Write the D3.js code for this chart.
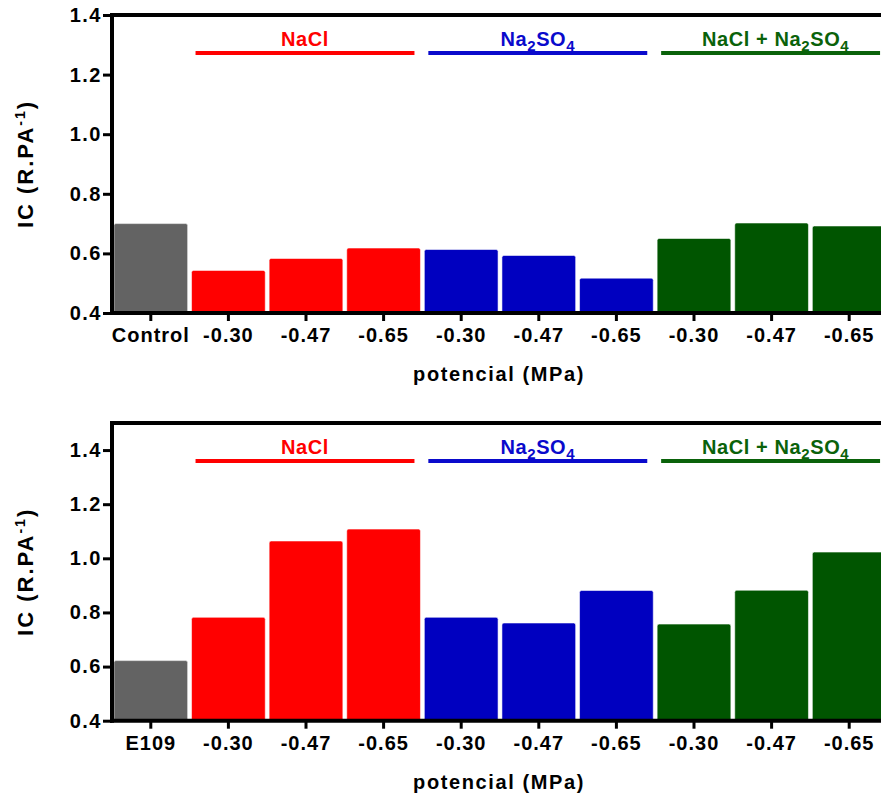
<!DOCTYPE html>
<html>
<head>
<meta charset="utf-8">
<script src="https://cdn.jsdelivr.net/npm/d3@7"></script>
<style>
  html, body { margin: 0; padding: 0; background: #fff; }
  svg { display: block; }
  text { font-family: "Liberation Sans", Arial, sans-serif; font-weight: bold; }
</style>
</head>
<body>
<svg id="chart" width="881" height="793"></svg>
<script>
// ---- data ----
const topLabels    = ["Control", "-0.30", "-0.47", "-0.65", "-0.30", "-0.47", "-0.65", "-0.30", "-0.47", "-0.65"];
const bottomLabels = ["E109",    "-0.30", "-0.47", "-0.65", "-0.30", "-0.47", "-0.65", "-0.30", "-0.47", "-0.65"];
const barGroups    = ["ctrl", "NaCl", "NaCl", "NaCl", "Na2SO4", "Na2SO4", "Na2SO4", "mix", "mix", "mix"];
const topValues    = [0.70, 0.543, 0.583, 0.618, 0.613, 0.593, 0.517, 0.650, 0.702, 0.692];
const bottomValues = [0.622, 0.782, 1.064, 1.108, 0.782, 0.761, 0.881, 0.757, 0.882, 1.023];
const topTicks     = [0.4, 0.6, 0.8, 1.0, 1.2, 1.4];
const bottomTicks  = [0.4, 0.6, 0.8, 1.0, 1.2, 1.4];
const groupNames   = ["NaCl", "Na2SO4", "mix"];

const barColor  = { ctrl: "#636363", NaCl: "#ff0000", Na2SO4: "#0000c0", mix: "#005500" };
const lineColor = { NaCl: "#ff0000", Na2SO4: "#0a0acc", mix: "#0a620a" };

const svg = d3.select("#chart");

function groupLabel(sel, g) {
  if (g === "NaCl") { sel.text("NaCl"); return; }
  if (g === "Na2SO4") {
    sel.append("tspan").text("Na");
    sel.append("tspan").attr("dy", 5).attr("font-size", 15).text("2");
    sel.append("tspan").attr("dy", -5).text("SO");
    sel.append("tspan").attr("dy", 5).attr("font-size", 15).text("4");
    return;
  }
  sel.append("tspan").text("NaCl + Na");
  sel.append("tspan").attr("dy", 5).attr("font-size", 15).text("2");
  sel.append("tspan").attr("dy", -5).text("SO");
  sel.append("tspan").attr("dy", 5).attr("font-size", 15).text("4");
}

function panel(opts) {
  const { yTop, yBottom, domain, values, labels, ticks } = opts;
  const g = svg.append("g");
  const x = d3.scaleBand().domain(d3.range(values.length)).range([112, 888])
    .paddingInner(0.05).paddingOuter(0.025);
  const y = d3.scaleLinear().domain(domain).range([yBottom, yTop]);

  // bars
  g.selectAll("rect.bar").data(values).join("rect")
    .attr("class", "bar")
    .attr("x", (d, i) => x(i))
    .attr("width", x.bandwidth())
    .attr("y", d => y(d))
    .attr("height", d => y(domain[0]) - y(d))
    .attr("rx", 2)
    .attr("fill", (d, i) => barColor[barGroups[i]])
    .attr("stroke", "rgba(255,255,255,0.55)")
    .attr("stroke-width", 1);

  // top frame line
  g.append("line")
    .attr("x1", 110).attr("x2", 881)
    .attr("y1", y(domain[1])).attr("y2", y(domain[1]))
    .attr("stroke", "#000").attr("stroke-width", 4);

  // y axis
  const ya = g.append("g").attr("transform", "translate(112,0)")
    .call(d3.axisLeft(y).tickValues(ticks).tickFormat(d3.format(".1f"))
      .tickSize(9).tickSizeOuter(0).tickPadding(1));
  ya.select(".domain").attr("stroke-width", 4).attr("d", `M0,${y(domain[1]) - 2}V${y(domain[0]) + 2}`);
  ya.selectAll(".tick line").attr("stroke-width", 3);
  ya.selectAll(".tick text").attr("font-size", 20).attr("letter-spacing", 1.5)
    .attr("font-family", "Liberation Sans, Arial, sans-serif").attr("font-weight", "bold").attr("fill", "#000");

  // x axis
  const xa = g.append("g").attr("transform", `translate(0,${y(domain[0])})`)
    .call(d3.axisBottom(x).tickFormat(i => labels[i]).tickSize(8).tickSizeOuter(0).tickPadding(7));
  xa.select(".domain").attr("stroke-width", 4).attr("d", "M110,0H888");
  xa.selectAll(".tick line").attr("stroke-width", 3);
  xa.selectAll(".tick text").attr("font-size", 20).attr("letter-spacing", 1)
    .attr("font-family", "Liberation Sans, Arial, sans-serif").attr("font-weight", "bold").attr("fill", "#000");

  // group lines and labels
  groupNames.forEach(gn => {
    const idx = barGroups.map((b, i) => b === gn ? i : -1).filter(i => i >= 0);
    const x0 = x(idx[0]) + 4;
    const x1 = x(idx[idx.length - 1]) + x.bandwidth() - 6;
    const ly = y(domain[1]) + 38;
    g.append("line").attr("x1", x0).attr("x2", x1).attr("y1", ly).attr("y2", ly)
      .attr("stroke", lineColor[gn]).attr("stroke-width", 4);
    const t = g.append("text")
      .attr("x", gn === "mix" ? (x0 + x1) / 2 + 5 : (x0 + x1) / 2)
      .attr("y", ly - 7)
      .attr("text-anchor", "middle")
      .attr("font-size", 20)
      .attr("letter-spacing", 0.6)
      .attr("fill", lineColor[gn]);
    groupLabel(t, gn);
  });

  // y axis title
  const cy = (y(domain[0]) + y(domain[1])) / 2;
  const yt = g.append("text")
    .attr("transform", `translate(33,${cy}) rotate(-90)`)
    .attr("text-anchor", "middle")
    .attr("font-size", 22)
    .attr("letter-spacing", 2)
    .attr("fill", "#000");
  yt.append("tspan").text("IC (R.PA");
  yt.append("tspan").attr("dy", -8).attr("font-size", 14).text("-1");
  yt.append("tspan").attr("dy", 8).text(")");

  // x axis title
  g.append("text")
    .attr("x", 499).attr("y", y(domain[0]) + 68)
    .attr("text-anchor", "middle")
    .attr("font-size", 20)
    .attr("letter-spacing", 1.6)
    .attr("fill", "#000")
    .text("potencial (MPa)");
}

panel({ yTop: 15, yBottom: 313, domain: [0.4, 1.4], values: topValues, labels: topLabels, ticks: topTicks });
panel({ yTop: 423, yBottom: 720.7, domain: [0.4, 1.5], values: bottomValues, labels: bottomLabels, ticks: bottomTicks });
</script>
</body>
</html>
